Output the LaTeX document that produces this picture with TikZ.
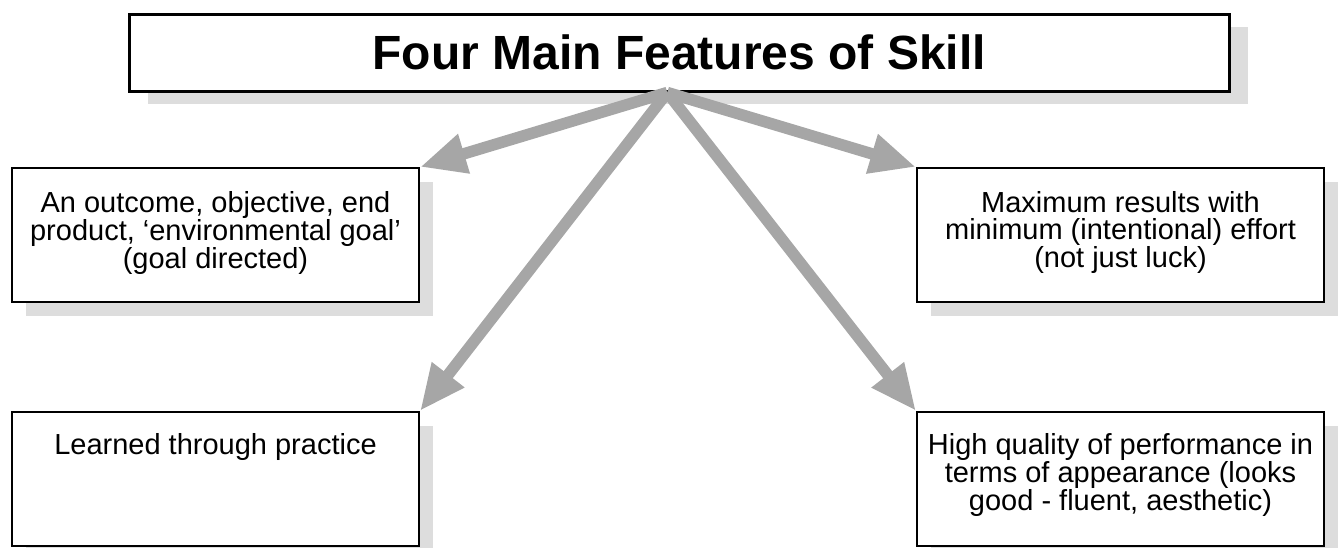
\documentclass[tikz,border=0pt]{standalone}
\usepackage{fontspec}
\setmainfont{Liberation Sans}
\usetikzlibrary{arrows.meta,shadows}
\definecolor{arrowgray}{HTML}{A6A6A6}
\definecolor{shadowgray}{HTML}{DDDDDD}
\begin{document}
\begin{tikzpicture}[x=1pt,y=-1pt,
  boxbase/.style={draw=black, line width=2pt, fill=white, inner sep=0pt, anchor=north west},
  featbox/.style={boxbase, minimum width=407pt, minimum height=134pt,
    drop shadow={shadow xshift=14pt, shadow yshift=-14pt, fill=shadowgray, opacity=1}},
  titlebox/.style={boxbase, line width=2.5pt, minimum width=1100pt, minimum height=77pt,
    drop shadow={shadow xshift=19pt, shadow yshift=-13pt, fill=shadowgray, opacity=1}},
  feattext/.style={align=center, font=\fontsize{29}{27}\selectfont, inner sep=0pt, anchor=north},
  titletext/.style={font=\bfseries\fontsize{48}{48}\selectfont, inner sep=0pt},
  link/.style={draw=arrowgray, line width=11.5pt, -{Triangle[length=46pt,width=38pt]}}]
\useasboundingbox (0,0) rectangle (1339,547);
\node[titlebox] (title) at (128,13) {};
\node[titletext] (tt) at (title.center) {Four Main Features of Skill};
\coordinate (hub) at ([xshift=-12pt]title.south);
\node[featbox] (b1) at (11,167) {};
\node[featbox] (b2) at (916,167) {};
\node[featbox] (b3) at (11,411) {};
\node[featbox] (b4) at (916,411) {};
\node[feattext, yshift=-24pt] (t1) at (b1.north) {An outcome, objective, end\\product, ‘environmental goal’\\(goal directed)};
\node[feattext, yshift=-24pt] (t2) at (b2.north) {Maximum results with\\minimum (intentional) effort\\(not just luck)};
\node[feattext, yshift=-22pt] (t3) at (b3.north) {Learned through practice};
\node[feattext, yshift=-22pt] (t4) at (b4.north) {High quality of performance in\\terms of appearance (looks\\good - fluent, aesthetic)};
\draw[link] (hub) -- (b1.north east);
\draw[link] (hub) -- (b2.north west);
\draw[link] (hub) -- (b3.north east);
\draw[link] (hub) -- (b4.north west);
\end{tikzpicture}
\end{document}
